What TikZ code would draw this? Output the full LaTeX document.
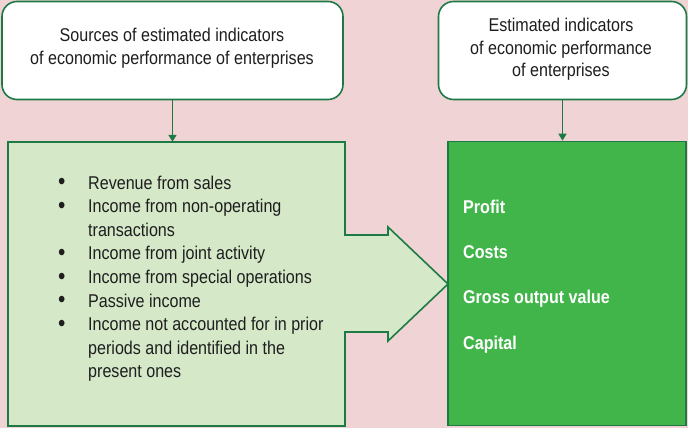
\documentclass[tikz,border=0pt]{standalone}
\usepackage{fontspec}
\setmainfont{Liberation Sans}[FakeStretch=0.87]
\usetikzlibrary{arrows.meta}
\definecolor{bgpink}{HTML}{F0D4D5}
\definecolor{dkgreen}{HTML}{1E7A45}
\definecolor{ltgreen}{HTML}{D5E8C8}
\definecolor{mdgreen}{HTML}{41B54A}
\definecolor{txt}{HTML}{1E1E1E}
\newcommand{\bul}{\makebox[31pt][l]{\hspace*{1pt}\raisebox{-0.6pt}{\scalebox{1.3}{\textbullet}}}}
\tikzset{
  titlebox/.style={draw=dkgreen, line width=1.6pt, fill=white, rounded corners=15pt, inner sep=0pt},
  conn/.style={draw=dkgreen, line width=1.6pt, -{Triangle[width=8pt,length=7pt]}},
  outline/.style={draw=dkgreen, line width=1.6pt},
  txtfont/.style={font=\fontsize{18.5}{23}\selectfont, text=txt}
}
\begin{document}
\begin{tikzpicture}[x=1pt,y=-1pt]
\useasboundingbox[fill=bgpink] (0,0) rectangle (688,428);
% title boxes
\node[titlebox, minimum width=341pt, minimum height=98pt] (src) at (172.5,50.5) {};
\node[txtfont, align=center, anchor=base] (srct) at (172,64) {Sources of estimated indicators\\of economic performance of enterprises};
\node[titlebox, minimum width=248pt, minimum height=98pt] (est) at (562.5,50.5) {};
\node[txtfont, align=center, anchor=base, font=\fontsize{18.5}{22.5}\selectfont] (estt) at (561,77) {Estimated indicators\\of economic performance\\of enterprises};
% left box with arrow
\path[outline, fill=ltgreen] (8,142) -- (345,142) -- (345,235) -- (388,235) -- (388,227) -- (448,284) -- (388,341) -- (388,332) -- (345,332) -- (345,426) -- (8,426) -- cycle;
\node[minimum width=337pt, minimum height=284pt, inner sep=0pt] (list) at (176.5,284) {};
\node[txtfont, font=\fontsize{18.5}{23.6}\selectfont, align=left, anchor=north west, inner sep=0pt] (items) at (57,175.4) {%
\bul Revenue from sales\\
\bul Income from non-operating\\
\hspace*{31pt}transactions\\
\bul Income from joint activity\\
\bul Income from special operations\\
\bul Passive income\\
\bul Income not accounted for in prior\\
\hspace*{31pt}periods and identified in the\\
\hspace*{31pt}present ones};
% right box
\node[outline, fill=mdgreen, minimum width=238pt, minimum height=284pt, inner sep=0pt] (ind) at (567,283.5) {};
\node[font=\fontsize{18.5}{45.3}\selectfont\bfseries, text=white, align=left, anchor=north west, inner sep=0pt] (indt) at (463,199.5) {Profit\\Costs\\Gross output value\\Capital};
% connectors
\draw[conn] (src.south) -- (src.south |- list.north);
\draw[conn] (est.south) -- (est.south |- ind.north);
\end{tikzpicture}
\end{document}
